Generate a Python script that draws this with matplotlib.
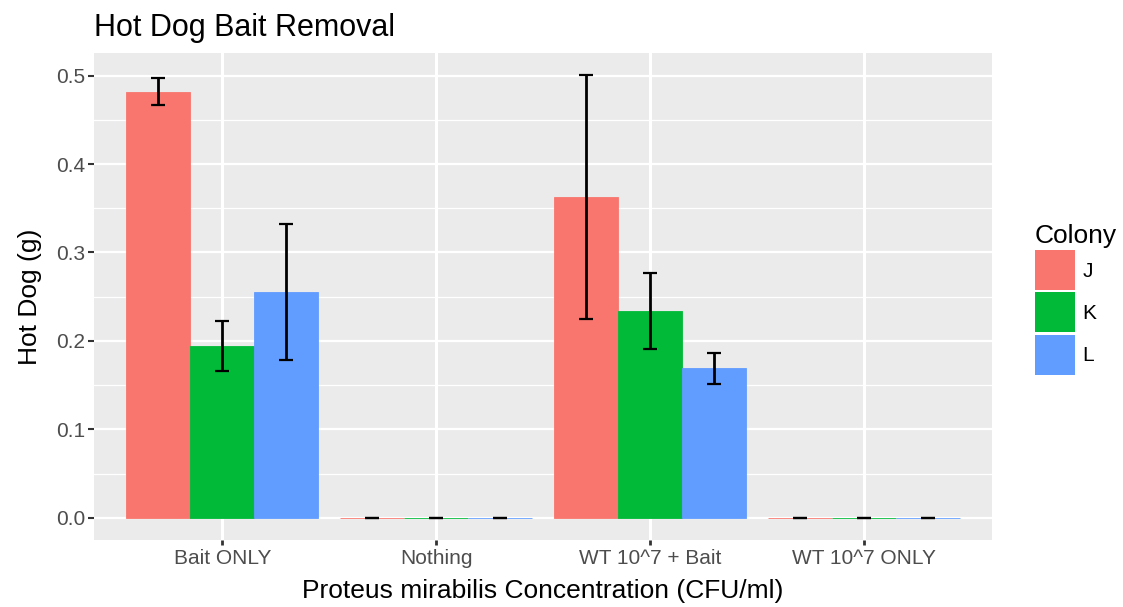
import matplotlib
matplotlib.use("Agg")
import matplotlib.pyplot as plt
import numpy as np
from matplotlib.patches import Patch

plt.rcParams["font.family"] = ["Liberation Sans", "DejaVu Sans"]

# Treatments on the x axis and colonies in each group
categories = ["Bait ONLY", "Nothing", "WT 10^7 + Bait", "WT 10^7 ONLY"]
colonies = ["J", "K", "L"]

# Mean hot dog removed (g) per colony, and error half-widths
mean_J = [0.482, 0.0, 0.3625, 0.0]
mean_K = [0.194, 0.0, 0.234, 0.0]
mean_L = [0.2557, 0.0, 0.169, 0.0]
err_J = [0.015, 0.0, 0.138, 0.0]
err_K = [0.028, 0.0, 0.043, 0.0]
err_L = [0.077, 0.0, 0.0175, 0.0]

y_ticks = [0.0, 0.1, 0.2, 0.3, 0.4, 0.5]
y_tick_labels = ["0.0", "0.1", "0.2", "0.3", "0.4", "0.5"]

colors = ["#F8766D", "#00BA38", "#619CFF"]
means = [mean_J, mean_K, mean_L]
errs = [err_J, err_K, err_L]

fig = plt.figure(figsize=(11.23, 6.07), dpi=100)
ax = fig.add_axes([94 / 1123, 1 - 540 / 607, 898 / 1123, 487 / 607])
ax.set_facecolor("#EBEBEB")

x = np.arange(len(categories))
dodge = 0.9
bw = dodge / len(colonies)

for i, (m, e, c) in enumerate(zip(means, errs, colors)):
    pos = x - dodge / 2 + bw * (i + 0.5)
    ax.bar(pos, m, width=bw, color=c, edgecolor=c, linewidth=0.6, zorder=2)
    ax.errorbar(pos, m, yerr=e, fmt="none", ecolor="black", elinewidth=2.0,
                capsize=5, capthick=1.6, zorder=3)

# limits in the manner of ggplot's expansion
top = max(max(np.array(m) + np.array(e)) for m, e in zip(means, errs))
pad = 0.05 * top
ax.set_ylim(-pad, top + pad)
ax.set_xlim(-0.6, len(categories) - 0.4)

ax.set_yticks(y_ticks)
ax.set_yticklabels(y_tick_labels)
ax.set_yticks(np.arange(0.05, 0.5, 0.1), minor=True)
ax.set_xticks(x)
ax.set_xticklabels(categories)

ax.grid(which="major", axis="y", color="white", linewidth=1.65, zorder=0)
ax.grid(which="minor", axis="y", color="white", linewidth=0.9, zorder=0)
ax.grid(which="major", axis="x", color="white", linewidth=2.2, zorder=0)
ax.set_axisbelow(True)
for s in ax.spines.values():
    s.set_visible(False)

ax.tick_params(axis="y", which="major", length=4.5, width=1.5, color="#333333",
               labelcolor="#4D4D4D", labelsize=15, pad=2)
ax.tick_params(axis="x", which="major", length=3.5, width=2.0, color="#333333",
               labelcolor="#4D4D4D", labelsize=15, pad=3)
ax.tick_params(axis="y", which="minor", length=0)

ax.set_xlabel("Proteus mirabilis Concentration (CFU/ml)", fontsize=19, color="black", labelpad=8)
ax.set_ylabel("Hot Dog (g)", fontsize=19, color="black", labelpad=10)
ax.set_title("Hot Dog Bait Removal", fontsize=22, loc="left", pad=12)

handles = [Patch(facecolor=c, edgecolor="none", label=l) for c, l in zip(colors, colonies)]
leg = ax.legend(handles=handles, title="Colony", loc="center left",
                bbox_to_anchor=(1.048, 0.494), frameon=False, fontsize=15,
                title_fontsize=19, handlelength=1.92, handleheight=2.58,
                labelspacing=0.1, handletextpad=0.35, borderaxespad=0, borderpad=0)
leg._legend_box.align = "left"

fig.savefig("out.png", dpi=100)
